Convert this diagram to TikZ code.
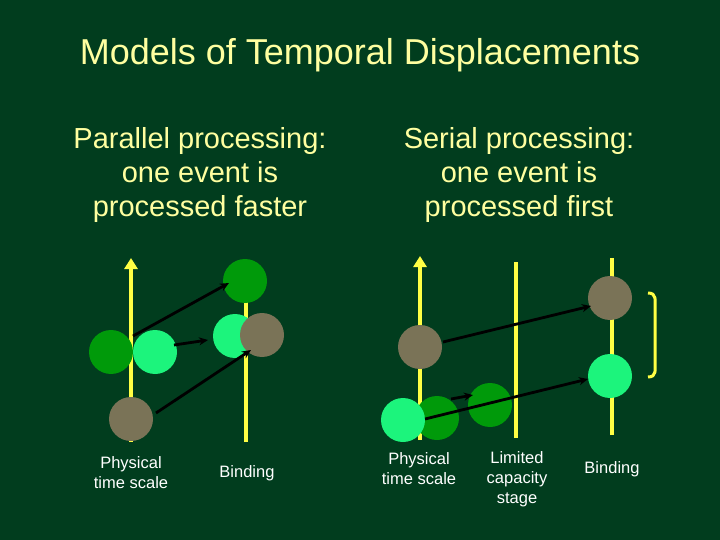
\documentclass[tikz,border=0pt]{standalone}
\usepackage{fontspec}
\setmainfont{Liberation Sans}
\usetikzlibrary{arrows.meta}
\definecolor{bg}{HTML}{013D1E}
\definecolor{dg}{HTML}{009A0A}
\definecolor{lg}{HTML}{1CF47C}
\definecolor{br}{HTML}{7A7357}
\definecolor{yl}{HTML}{FFFF44}
\definecolor{tt}{HTML}{FFFFA0}
\begin{document}
\begin{tikzpicture}[x=1pt,y=-1pt,
  ball/.style={circle,inner sep=0,minimum size=44pt},
  axis/.style={yl,line width=4pt},
  mv/.style={-{Stealth[length=9pt,width=8pt]},line width=2.8pt,black},
  lab/.style={white,font=\fontsize{16.5}{20}\selectfont,align=center},
  head/.style={tt,font=\fontsize{29}{34}\selectfont,align=center}]
\fill[bg] (0,0) rectangle (720,540);
\node[tt,font=\fontsize{36}{40}\selectfont] (title) at (360,55) {Models of Temporal Displacements};
\node[head] (h1) at (200,175) {Parallel processing:\\one event is\\processed faster};
\node[head] (h2) at (519,175) {Serial processing:\\one event is\\processed first};
% left
\coordinate (a1b) at (131,442); \coordinate (a1t) at (131,258);
\coordinate (a2b) at (246,442); \coordinate (a2t) at (246,300);
\draw[axis,-{Triangle[length=11pt,width=13pt]}] (a1b) -- (a1t);
\draw[axis] (a2b) -- (a2t);
\node[ball,fill=dg] (l1) at (111,352) {};
\node[ball,fill=lg] (l2) at (155,352) {};
\node[ball,fill=br] (l3) at (131,419) {};
\node[ball,fill=dg] (r1) at (245,281) {};
\node[ball,fill=lg] (r2) at (235,336) {};
\node[ball,fill=br] (r3) at (262,335) {};
\coordinate (s1) at (133,336); \coordinate (e1) at (229,283);
\coordinate (s2) at (174,345); \coordinate (e2) at (208,340);
\coordinate (s3) at (156,413); \coordinate (e3) at (251,350);
\draw[mv] (s1) -- (e1);
\draw[mv] (s2) -- (e2);
\draw[mv] (s3) -- (e3);
\node[lab] (t1) at (131,473) {Physical\\time scale};
\node[lab] (t2) at (247,473) {Binding};
% right
\coordinate (b1b) at (420,440); \coordinate (b1t) at (420,256);
\coordinate (b2b) at (516,438); \coordinate (b2t) at (516,262);
\coordinate (b3b) at (612,435); \coordinate (b3t) at (612,258);
\draw[axis,-{Triangle[length=11pt,width=13pt]}] (b1b) -- (b1t);
\draw[axis] (b2b) -- (b2t);
\draw[axis] (b3b) -- (b3t);
\node[ball,fill=br] (p1) at (420,347) {};
\node[ball,fill=dg] (p2) at (437,418) {};
\node[ball,fill=lg] (p3) at (403,420) {};
\node[ball,fill=dg] (p4) at (490,405) {};
\node[ball,fill=br] (q1) at (610,298) {};
\node[ball,fill=lg] (q2) at (610,376) {};
\coordinate (u1) at (443,342); \coordinate (v1) at (591,306);
\coordinate (u2) at (451,399); \coordinate (v2) at (473,395);
\coordinate (u3) at (425,419); \coordinate (v3) at (588,379);
\draw[mv] (u1) -- (v1);
\draw[mv] (u2) -- (v2);
\draw[mv] (u3) -- (v3);
\coordinate (k1) at (648,293); \coordinate (k2) at (648,377);
\draw[yl,line width=3pt] (k1) .. controls (657,293) and (655,300) .. (655,310) -- (655,360) .. controls (655,370) and (657,377) .. (k2);
\node[lab] (t3) at (419,469) {Physical\\time scale};
\node[lab] (t4) at (517,479) {Limited\\capacity\\stage};
\node[lab] (t5) at (612,469) {Binding};
\end{tikzpicture}
\end{document}
